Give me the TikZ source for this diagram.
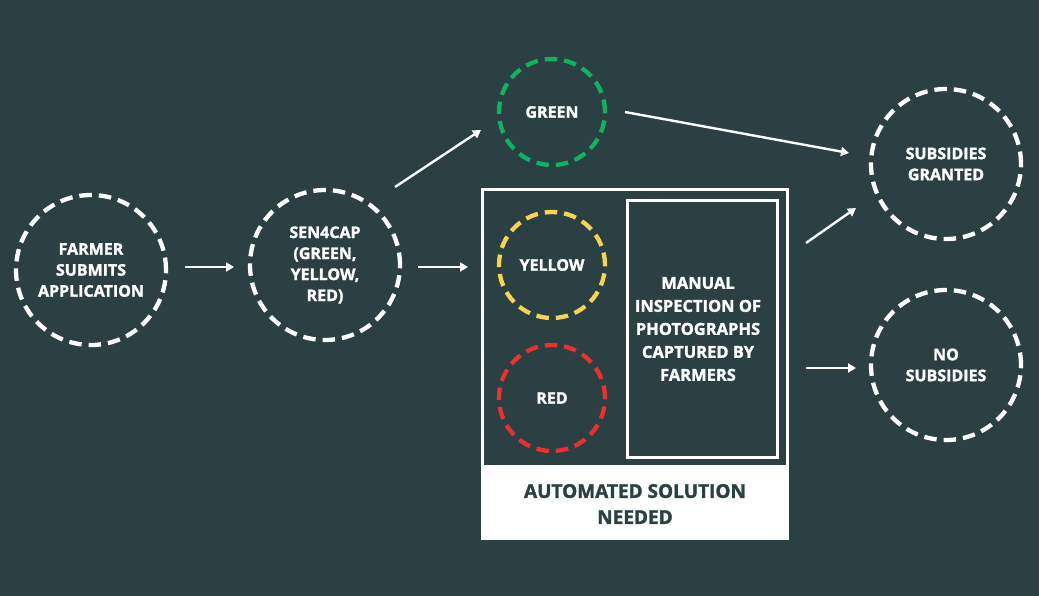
\documentclass[tikz,border=0pt]{standalone}
\usepackage{fontspec}
\setmainfont{Open Sans}[BoldFeatures={FakeBold=1.6}]
\usetikzlibrary{arrows.meta}
\definecolor{bg}{RGB}{42,64,66}
\definecolor{cgreen}{RGB}{18,176,98}
\definecolor{cyellow}{RGB}{246,212,80}
\definecolor{cred}{RGB}{236,48,48}
\tikzset{
  dcirc/.style={circle, draw=#1, line width=4.3pt, dash pattern=on 12.5pt off 7pt, inner sep=0pt, text=white, align=center, font=\bfseries\fontsize{16}{21}\selectfont},
  bigc/.style={dcirc=white, minimum size=150pt},
  smallc/.style={dcirc=#1, minimum size=106pt},
  arr/.style={draw=white, line width=2.4pt, -{Triangle[length=8pt,width=9pt]}},
  lbl/.style={text=white, align=center, font=\bfseries\fontsize{16.5}{23}\selectfont}
}
\begin{document}
\begin{tikzpicture}[x=1pt,y=-1pt]
\fill[bg] (0,0) rectangle (1039,596);
\useasboundingbox (0,0) rectangle (1039,596);
% container
\fill[white] (481,465) rectangle (789,540);
\node[draw=white, line width=3pt, minimum width=305pt, minimum height=349pt, inner sep=0pt] (box) at (635,364) {};
\node[draw=white, line width=3pt, minimum width=150pt, minimum height=256pt, inner sep=0pt] (manual) at (702,329) {};
\node[lbl] (mtext) at (698,329) {MANUAL\\INSPECTION OF\\PHOTOGRAPHS\\CAPTURED BY\\FARMERS};
\node[text=bg, align=center, font=\bfseries\fontsize{19}{26}\selectfont] (auto) at (635,504) {AUTOMATED SOLUTION\\NEEDED};
% circles
\node[bigc] (farmer) at (91,270) {FARMER\\SUBMITS\\APPLICATION};
\node[bigc] (sen) at (325,265) {SEN4CAP\\(GREEN,\\YELLOW,\\RED)};
\node[smallc=cgreen] (green) at (552,112) {GREEN};
\node[smallc=cyellow] (yellow) at (552,265) {YELLOW};
\node[smallc=cred] (red) at (552,398) {RED};
\node[bigc] (granted) at (946,164) {SUBSIDIES\\GRANTED};
\node[bigc] (nosub) at (946,365) {NO\\SUBSIDIES};
% free ends
\coordinate (a1) at (185,267); \coordinate (a2) at (234,267);
\coordinate (b1) at (418,267); \coordinate (b2) at (468,267);
\coordinate (c1) at (395,187); \coordinate (c2) at (481,130);
\coordinate (d1) at (625,112); \coordinate (d2) at (849,153);
\coordinate (e1) at (806,243); \coordinate (e2) at (856,208);
\coordinate (f1) at (806,368); \coordinate (f2) at (856,368);
\draw[arr] (a1) -- (a2);
\draw[arr] (b1) -- (b2);
\draw[arr] (c1) -- (c2);
\draw[arr] (d1) -- (d2);
\draw[arr] (e1) -- (e2);
\draw[arr] (f1) -- (f2);
\end{tikzpicture}
\end{document}
